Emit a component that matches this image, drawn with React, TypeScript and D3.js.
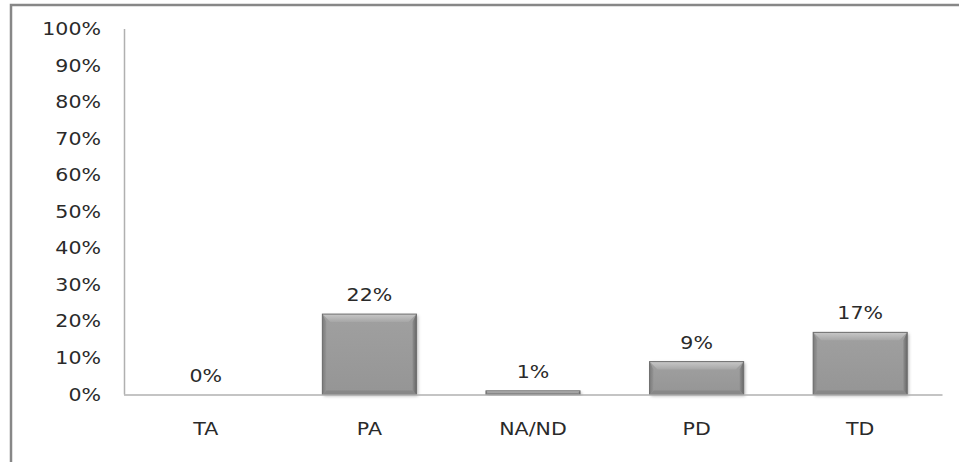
import React from "react";
import * as d3 from "d3";

const categories = ["TA", "PA", "NA/ND", "PD", "TD"];
const values = [0, 0.22, 0.01, 0.09, 0.17];
const yTicks = [0, 0.1, 0.2, 0.3, 0.4, 0.5, 0.6, 0.7, 0.8, 0.9, 1.0];

const W = 959;
const H = 462;
const FONT = "'DejaVu Sans', Verdana, sans-serif";
const SX = 1.21;

function SText({ x, y, anchor, children }: { x: number; y: number; anchor: string; children: React.ReactNode }) {
  return (
    <text
      transform={`translate(${x},${y}) scale(${SX},1)`}
      textAnchor={anchor}
      fontFamily={FONT}
      fontSize={17}
      fill="#2a2a2a"
    >
      {children}
    </text>
  );
}

export default function App() {
  const x = d3.scaleBand<string>().domain(categories).range([124, 942]).paddingInner(0.425).paddingOuter(0.2125);
  const y = d3.scaleLinear().domain([0, 1]).range([394.5, 29]);
  const fmt = d3.format(".0%");
  const bw = x.bandwidth();

  return (
    <div style={{ position: "absolute", left: 0, top: 0 }}>
      <svg width={W} height={H} style={{ display: "block" }}>
        <defs>
          <linearGradient id="barFill" x1="0" y1="0" x2="0" y2="1">
            <stop offset="0" stopColor="#a0a0a0" />
            <stop offset="1" stopColor="#959595" />
          </linearGradient>
          <linearGradient id="topBev" x1="0" y1="0" x2="0" y2="1">
            <stop offset="0" stopColor="#c8c8c8" />
            <stop offset="1" stopColor="#a6a6a6" />
          </linearGradient>
          <linearGradient id="leftBev" x1="0" y1="0" x2="1" y2="0">
            <stop offset="0" stopColor="#7a7a7a" />
            <stop offset="1" stopColor="#959595" />
          </linearGradient>
          <linearGradient id="rightBev" x1="0" y1="0" x2="1" y2="0">
            <stop offset="0" stopColor="#8e8e8e" />
            <stop offset="1" stopColor="#686868" />
          </linearGradient>
          <filter id="shadow" x="-10%" y="-10%" width="130%" height="140%">
            <feDropShadow dx="1.5" dy="1.5" stdDeviation="1.5" floodColor="#000" floodOpacity="0.3" />
          </filter>
        </defs>
        <rect x={0} y={0} width={W} height={H} fill="#fff" />
        {/* outer border */}
        <rect x={11} y={5} width={W + 10} height={H + 10} fill="none" stroke="#878787" strokeWidth={2.5} />

        {/* y axis */}
        <line x1={124.5} x2={124.5} y1={y(1)} y2={y(0)} stroke="#b0b0b0" strokeWidth={1.5} />
        {yTicks.map((t) => (
          <SText key={t} x={101} y={y(t) + 6} anchor="end">
            {fmt(t)}
          </SText>
        ))}

        {/* bars */}
        {values.map((v, i) => {
          const x0 = x(categories[i])!;
          const x1 = x0 + bw;
          const y0 = y(v);
          const y1 = y(0);
          const h = y1 - y0;
          if (h <= 0.01) return null;
          const bt = Math.min(8, h / 2);
          const bs = Math.min(4, h / 2);
          const bb = Math.min(4, h / 2);
          return (
            <g key={categories[i]}>
              <rect x={x0} y={y0} width={bw} height={h} fill="url(#barFill)" filter="url(#shadow)" />
              <polygon points={`${x0},${y1} ${x0 + bs},${y1 - bb} ${x1 - bs},${y1 - bb} ${x1},${y1}`} fill="#888888" />
              <polygon points={`${x0},${y0} ${x0 + bs},${y0 + bt} ${x0 + bs},${y1 - bb} ${x0},${y1}`} fill="url(#leftBev)" />
              <polygon points={`${x1},${y0} ${x1 - bs},${y0 + bt} ${x1 - bs},${y1 - bb} ${x1},${y1}`} fill="url(#rightBev)" />
              <polygon points={`${x0},${y0} ${x1},${y0} ${x1 - bt},${y0 + bt} ${x0 + bt},${y0 + bt}`} fill="url(#topBev)" />
              <rect x={x0} y={y0} width={bw} height={h} fill="none" stroke="#6e6e6e" strokeWidth={1} />
            </g>
          );
        })}

        {/* x axis */}
        <line x1={124} x2={942.5} y1={y(0) + 0.5} y2={y(0) + 0.5} stroke="#b0b0b0" strokeWidth={1.5} />

        {/* value labels */}
        {values.map((v, i) => (
          <SText key={"l" + i} x={x(categories[i])! + bw / 2} y={y(v) - 13} anchor="middle">
            {fmt(v)}
          </SText>
        ))}

        {/* category labels */}
        {categories.map((c) => (
          <SText key={"c" + c} x={x(c)! + bw / 2} y={435} anchor="middle">
            {c}
          </SText>
        ))}
      </svg>
    </div>
  );
}
